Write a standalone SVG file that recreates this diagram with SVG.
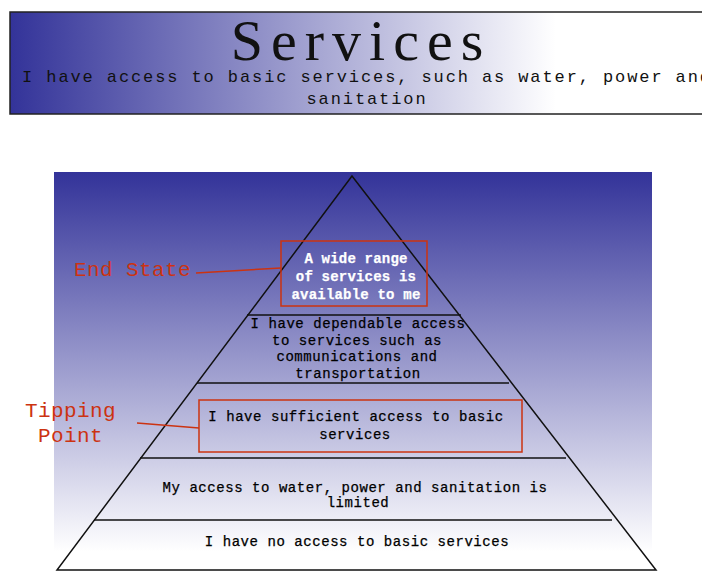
<svg xmlns="http://www.w3.org/2000/svg" width="702" height="572" viewBox="0 0 702 572">
<defs>
<linearGradient id="hg" x1="0" y1="0" x2="1" y2="0">
<stop offset="0" stop-color="#333399"/>
<stop offset="0.78" stop-color="#ffffff"/>
<stop offset="1" stop-color="#ffffff"/>
</linearGradient>
<linearGradient id="pg" x1="0" y1="0" x2="0" y2="1">
<stop offset="0" stop-color="#333399"/>
<stop offset="0.95" stop-color="#ffffff"/>
<stop offset="1" stop-color="#ffffff"/>
</linearGradient>
<style>
.t{font-family:"Liberation Mono","DejaVu Sans Mono",monospace;font-size:14px;letter-spacing:0.55px;fill:#000;text-anchor:middle;stroke:#000;stroke-width:0.25px}
.w{fill:#fff;stroke:#fff;font-weight:bold;letter-spacing:0.2px}
.lab{font-family:"Liberation Mono","DejaVu Sans Mono",monospace;font-size:21px;fill:#cc3311;letter-spacing:0.4px}
.tier{stroke:#111;stroke-width:1.5}
.red{fill:none;stroke:#cc3311;stroke-width:1.5}
</style>
</defs>
<rect width="702" height="572" fill="#fff"/>
<g id="header">
<rect x="10" y="12" width="700" height="102" fill="url(#hg)" stroke="#222" stroke-width="1.5"/>
<text x="361" y="60" font-family="Liberation Serif,serif" font-size="58" letter-spacing="8" text-anchor="middle" fill="#111">Services</text>
<text x="367" y="82" font-family="Liberation Mono,monospace" font-size="17" letter-spacing="1.9" text-anchor="middle" fill="#111">I have access to basic services, such as water, power and</text>
<text x="367" y="104" font-family="Liberation Mono,monospace" font-size="17" letter-spacing="1.9" text-anchor="middle" fill="#111">sanitation</text>
</g>
<rect id="panel" x="54" y="172" width="598" height="400" fill="url(#pg)"/>
<g id="pyramid">
<polygon points="352,176 57,570 656,570" fill="none" stroke="#111" stroke-width="1.5"/>
<line class="tier" x1="247" y1="315" x2="461" y2="315"/>
<line class="tier" x1="197" y1="383" x2="509" y2="383"/>
<line class="tier" x1="140" y1="458" x2="566" y2="458"/>
<line class="tier" x1="94" y1="520" x2="612" y2="520"/>
</g>
<g id="tier1">
<rect class="red" x="281" y="241" width="146" height="65"/>
<text class="t w" x="356" y="263">A wide range</text>
<text class="t w" x="356" y="281">of services is</text>
<text class="t w" x="356" y="299">available to me</text>
</g>
<g id="tier2">
<text class="t" x="358" y="328">I have dependable access</text>
<text class="t" x="357" y="345">to services such as</text>
<text class="t" x="357" y="361">communications and</text>
<text class="t" x="358" y="378">transportation</text>
</g>
<g id="tier3">
<rect class="red" x="199" y="400" width="323" height="52"/>
<text class="t" x="356" y="421">I have sufficient access to basic</text>
<text class="t" x="355" y="439">services</text>
</g>
<g id="tier4">
<text class="t" x="355" y="492">My access to water, power and sanitation is</text>
<text class="t" x="358" y="507">limited</text>
</g>
<g id="tier5">
<text class="t" x="357" y="546">I have no access to basic services</text>
</g>
<g id="labels">
<text class="lab" x="74" y="276">End State</text>
<text class="lab" x="25" y="417">Tipping</text>
<text class="lab" x="38" y="442">Point</text>
</g>
<g id="connectors">
<line x1="196" y1="273" x2="281" y2="268" stroke="#cc3311" stroke-width="1.5"/>
<line x1="137" y1="423" x2="199" y2="428" stroke="#cc3311" stroke-width="1.5"/>
</g>
</svg>
